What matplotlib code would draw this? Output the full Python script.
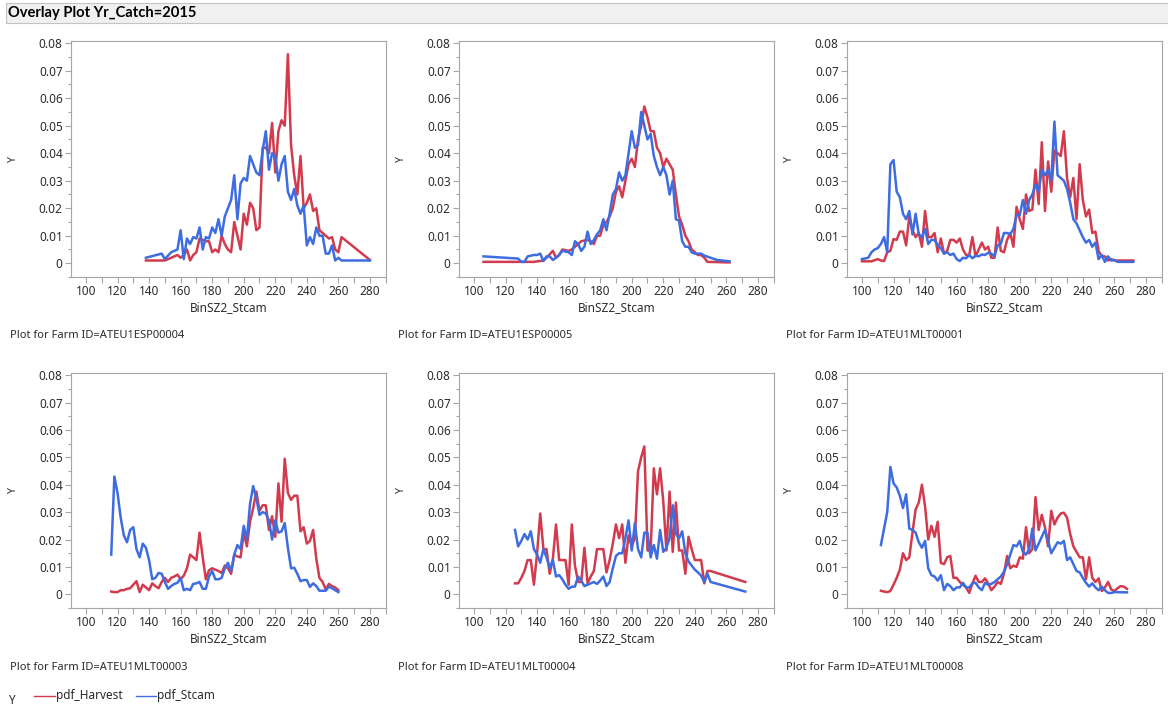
import matplotlib
matplotlib.use("Agg")
import matplotlib.pyplot as plt
from matplotlib.patches import Rectangle
from matplotlib.lines import Line2D
from matplotlib.ticker import MultipleLocator, FuncFormatter

plt.rcParams['font.family'] = ['Noto Sans', 'DejaVu Sans']

# (BinSZ2_Stcam, pdf) pairs per farm
esp04_harvest = [(138, 0.001), (150, 0.001), (158, 0.003), (160, 0.002), (162, 0.003), (164, 0.005),
                 (166, 0.001), (168, 0.003), (170, 0.004), (172, 0.009), (176, 0.008), (178, 0.008),
                 (180, 0.004), (182, 0.005), (184, 0.004), (186, 0.010), (188, 0.007), (190, 0.005),
                 (192, 0.004), (194, 0.015), (196, 0.010), (198, 0.005), (200, 0.018), (202, 0.014),
                 (204, 0.022), (206, 0.020), (208, 0.012), (210, 0.013), (212, 0.042), (214, 0.042),
                 (216, 0.040), (218, 0.051), (220, 0.033), (222, 0.048), (224, 0.052), (226, 0.050),
                 (228, 0.076), (230, 0.043), (232, 0.032), (234, 0.025), (236, 0.039), (238, 0.020),
                 (240, 0.022), (242, 0.025), (244, 0.019), (246, 0.020), (248, 0.012), (250, 0.011),
                 (252, 0.010), (254, 0.009), (256, 0.0095), (258, 0.005), (260, 0.004), (262, 0.0095),
                 (280, 0.0012)]
esp04_stcam = [(138, 0.002), (148, 0.0035), (150, 0.0015), (154, 0.004), (158, 0.005), (160, 0.012),
               (162, 0.0015), (164, 0.009), (166, 0.007), (168, 0.0095), (170, 0.009), (172, 0.013),
               (174, 0.005), (176, 0.0095), (178, 0.009), (180, 0.013), (182, 0.011), (184, 0.016),
               (186, 0.010), (188, 0.017), (190, 0.020), (192, 0.023), (194, 0.032), (196, 0.016),
               (198, 0.029), (200, 0.031), (202, 0.030), (204, 0.039), (206, 0.036), (208, 0.033),
               (210, 0.032), (212, 0.041), (214, 0.048), (216, 0.034), (218, 0.040), (220, 0.039),
               (222, 0.030), (224, 0.036), (226, 0.039), (228, 0.026), (230, 0.023), (232, 0.027),
               (234, 0.021), (236, 0.018), (238, 0.021), (240, 0.0065), (242, 0.0095), (244, 0.007),
               (246, 0.013), (248, 0.010), (250, 0.010), (252, 0.0035), (254, 0.0035), (256, 0.0065),
               (258, 0.001), (260, 0.002), (262, 0.001), (280, 0.001)]

esp05_harvest = [(106, 0.0005), (130, 0.0005), (138, 0.0005), (144, 0.001), (146, 0.002), (150, 0.0045),
                 (152, 0.002), (154, 0.003), (156, 0.005), (160, 0.0045), (162, 0.005), (164, 0.006),
                 (168, 0.008), (172, 0.0085), (174, 0.008), (176, 0.007), (178, 0.010), (180, 0.010),
                 (182, 0.014), (184, 0.015), (186, 0.017), (188, 0.020), (190, 0.026), (192, 0.028),
                 (194, 0.024), (196, 0.030), (198, 0.036), (200, 0.038), (202, 0.035), (204, 0.045),
                 (206, 0.050), (208, 0.057), (210, 0.053), (212, 0.048), (214, 0.048), (216, 0.042),
                 (218, 0.040), (220, 0.035), (222, 0.038), (224, 0.036), (226, 0.034), (228, 0.025),
                 (230, 0.017), (232, 0.014), (234, 0.010), (236, 0.008), (238, 0.005), (240, 0.004),
                 (242, 0.003), (244, 0.003), (246, 0.002), (248, 0.0005), (262, 0.0003)]
esp05_stcam = [(106, 0.0025), (128, 0.0017), (130, 0.0005), (132, 0.0005), (134, 0.0025), (138, 0.003),
               (140, 0.003), (142, 0.0035), (144, 0.0008), (146, 0.0025), (148, 0.0025), (150, 0.0012),
               (152, 0.002), (154, 0.003), (156, 0.0045), (160, 0.004), (162, 0.003), (164, 0.008),
               (166, 0.007), (168, 0.0045), (170, 0.006), (172, 0.0115), (174, 0.007), (176, 0.0085),
               (178, 0.0105), (180, 0.012), (182, 0.016), (184, 0.012), (186, 0.018), (188, 0.025),
               (190, 0.027), (192, 0.033), (194, 0.030), (196, 0.032), (198, 0.040), (200, 0.048),
               (202, 0.042), (204, 0.043), (206, 0.055), (208, 0.050), (210, 0.045), (212, 0.047),
               (214, 0.039), (216, 0.035), (218, 0.032), (220, 0.035), (222, 0.032), (224, 0.025),
               (226, 0.030), (228, 0.016), (230, 0.0155), (232, 0.008), (234, 0.006), (236, 0.006),
               (238, 0.004), (240, 0.0035), (242, 0.0035), (244, 0.0035), (246, 0.0028), (250, 0.002),
               (254, 0.0012), (262, 0.0007)]

mlt01_harvest = [(100, 0.0007), (106, 0.0007), (110, 0.0015), (112, 0.001), (114, 0.0008), (116, 0.004),
                 (118, 0.0045), (120, 0.0088), (122, 0.0085), (124, 0.0115), (126, 0.0115), (128, 0.0065),
                 (130, 0.017), (132, 0.012), (134, 0.0095), (136, 0.011), (138, 0.006), (140, 0.019),
                 (142, 0.0095), (144, 0.0095), (146, 0.011), (148, 0.004), (150, 0.009), (152, 0.0035),
                 (154, 0.0045), (156, 0.0085), (158, 0.0085), (160, 0.0075), (162, 0.009), (164, 0.005),
                 (166, 0.003), (168, 0.003), (170, 0.0095), (172, 0.0025), (174, 0.005), (176, 0.0075),
                 (178, 0.005), (180, 0.006), (182, 0.002), (184, 0.002), (186, 0.013), (188, 0.0045),
                 (190, 0.004), (192, 0.0085), (194, 0.011), (196, 0.006), (198, 0.0205), (200, 0.016),
                 (202, 0.0125), (204, 0.025), (206, 0.019), (208, 0.0195), (210, 0.034), (212, 0.0215),
                 (214, 0.044), (216, 0.019), (218, 0.037), (220, 0.026), (222, 0.041), (224, 0.040),
                 (226, 0.039), (228, 0.048), (230, 0.031), (232, 0.024), (234, 0.031), (236, 0.016),
                 (238, 0.036), (240, 0.023), (242, 0.017), (244, 0.0195), (246, 0.011), (248, 0.0115),
                 (250, 0.0045), (252, 0.0025), (254, 0.0025), (256, 0.001), (258, 0.0015), (260, 0.001),
                 (272, 0.001)]
mlt01_stcam = [(100, 0.0015), (104, 0.002), (106, 0.004), (108, 0.005), (110, 0.0055), (112, 0.007),
               (114, 0.0095), (116, 0.004), (118, 0.036), (120, 0.0375), (122, 0.026), (124, 0.024),
               (126, 0.018), (128, 0.016), (130, 0.019), (132, 0.0105), (134, 0.018), (136, 0.0105),
               (138, 0.0095), (140, 0.0125), (142, 0.007), (144, 0.0085), (146, 0.0085), (148, 0.0065),
               (150, 0.0055), (152, 0.0035), (154, 0.004), (156, 0.003), (158, 0.0035), (160, 0.0015),
               (162, 0.0008), (164, 0.002), (166, 0.0018), (168, 0.003), (170, 0.0018), (172, 0.0028),
               (174, 0.0025), (176, 0.0032), (178, 0.003), (180, 0.0038), (182, 0.0035), (184, 0.0025),
               (186, 0.0065), (188, 0.007), (190, 0.011), (192, 0.011), (194, 0.0105), (196, 0.0125),
               (198, 0.0175), (200, 0.0175), (202, 0.023), (204, 0.018), (206, 0.023), (208, 0.025),
               (210, 0.0285), (212, 0.026), (214, 0.034), (216, 0.032), (218, 0.034), (220, 0.030),
               (222, 0.0515), (224, 0.032), (226, 0.031), (228, 0.030), (230, 0.027), (232, 0.022),
               (234, 0.016), (236, 0.0145), (238, 0.012), (240, 0.0095), (242, 0.0075), (244, 0.0085),
               (246, 0.006), (248, 0.0075), (250, 0.0015), (252, 0.003), (254, 0.0005), (256, 0.0025),
               (258, 0.001), (260, 0.0012), (262, 0.0005), (272, 0.0005)]

mlt03_harvest = [(116, 0.001), (118, 0.0008), (120, 0.0008), (122, 0.0015), (124, 0.0015), (126, 0.002),
                 (128, 0.0022), (130, 0.0035), (132, 0.0048), (134, 0.0008), (136, 0.0035), (138, 0.0025),
                 (140, 0.0015), (142, 0.004), (144, 0.003), (146, 0.0022), (148, 0.0045), (150, 0.006),
                 (152, 0.0045), (154, 0.006), (156, 0.0065), (158, 0.0072), (160, 0.0055), (162, 0.0068),
                 (164, 0.0095), (166, 0.0145), (168, 0.0135), (170, 0.0125), (172, 0.0225), (174, 0.0135),
                 (176, 0.0055), (178, 0.0088), (180, 0.0095), (182, 0.009), (184, 0.0085), (186, 0.0078),
                 (188, 0.0105), (190, 0.0095), (192, 0.0075), (194, 0.0145), (196, 0.0138), (198, 0.0135),
                 (200, 0.0225), (202, 0.0175), (204, 0.0265), (206, 0.0315), (208, 0.0375), (210, 0.0305),
                 (212, 0.0325), (214, 0.0325), (216, 0.0235), (218, 0.0285), (220, 0.021), (222, 0.0405),
                 (224, 0.0265), (226, 0.0495), (228, 0.037), (230, 0.0345), (232, 0.036), (234, 0.036),
                 (236, 0.023), (238, 0.0245), (240, 0.0185), (242, 0.0195), (244, 0.0235), (246, 0.013),
                 (248, 0.006), (250, 0.0045), (252, 0.0018), (254, 0.0038), (256, 0.003), (258, 0.0025),
                 (260, 0.0015)]
mlt03_stcam = [(116, 0.0145), (118, 0.043), (120, 0.037), (122, 0.028), (124, 0.0215), (126, 0.019),
               (128, 0.0235), (130, 0.0245), (132, 0.0165), (134, 0.0135), (136, 0.0185), (138, 0.017),
               (140, 0.0125), (142, 0.0055), (144, 0.006), (146, 0.0078), (148, 0.0075), (150, 0.0045),
               (152, 0.002), (154, 0.003), (156, 0.0038), (158, 0.0042), (160, 0.006), (162, 0.0015),
               (164, 0.002), (166, 0.0015), (168, 0.0038), (170, 0.004), (172, 0.0045), (174, 0.002),
               (176, 0.002), (178, 0.0065), (180, 0.0085), (182, 0.0055), (184, 0.0055), (186, 0.006),
               (188, 0.0095), (190, 0.0115), (192, 0.0085), (194, 0.0145), (196, 0.018), (198, 0.0165),
               (200, 0.025), (202, 0.020), (204, 0.033), (206, 0.0395), (208, 0.035), (210, 0.029),
               (212, 0.030), (214, 0.0295), (216, 0.027), (218, 0.020), (220, 0.027), (222, 0.0225),
               (224, 0.023), (226, 0.026), (228, 0.017), (230, 0.0095), (232, 0.0097), (234, 0.0075),
               (236, 0.0048), (238, 0.0052), (240, 0.0052), (242, 0.0027), (244, 0.004), (246, 0.003),
               (248, 0.0013), (250, 0.0013), (252, 0.0013), (254, 0.0028), (256, 0.0022), (258, 0.0015),
               (260, 0.0008)]

mlt04_harvest = [(126, 0.004), (128, 0.004), (130, 0.006), (132, 0.0085), (134, 0.0125), (136, 0.0125),
                 (138, 0.0035), (140, 0.015), (142, 0.0295), (144, 0.0165), (146, 0.0165), (148, 0.0075),
                 (150, 0.013), (152, 0.0255), (154, 0.0125), (156, 0.0125), (158, 0.0125), (160, 0.0035),
                 (162, 0.0255), (164, 0.0105), (166, 0.0045), (168, 0.0045), (170, 0.017), (172, 0.004),
                 (174, 0.0065), (176, 0.0085), (178, 0.0165), (180, 0.0165), (182, 0.0165), (184, 0.008),
                 (186, 0.0125), (188, 0.0185), (190, 0.0255), (192, 0.0205), (194, 0.0255), (196, 0.0115),
                 (198, 0.0215), (200, 0.0175), (202, 0.0205), (204, 0.045), (206, 0.050), (208, 0.054),
                 (210, 0.016), (212, 0.016), (214, 0.046), (216, 0.0365), (218, 0.046), (220, 0.034),
                 (222, 0.016), (224, 0.0375), (226, 0.0155), (228, 0.0335), (230, 0.016), (232, 0.016),
                 (234, 0.0075), (236, 0.021), (238, 0.0165), (240, 0.0125), (242, 0.0125), (244, 0.0125),
                 (246, 0.004), (248, 0.0085), (250, 0.0085), (272, 0.0045)]
mlt04_stcam = [(126, 0.0235), (128, 0.0175), (130, 0.0195), (132, 0.022), (134, 0.020), (136, 0.023),
               (138, 0.0165), (140, 0.0145), (142, 0.0115), (144, 0.0165), (146, 0.0135), (148, 0.0095),
               (150, 0.0125), (152, 0.0065), (154, 0.007), (156, 0.0055), (158, 0.0035), (160, 0.002),
               (162, 0.0028), (164, 0.0028), (166, 0.0065), (168, 0.005), (170, 0.003), (172, 0.0035),
               (174, 0.004), (176, 0.0045), (178, 0.0038), (180, 0.005), (182, 0.0065), (184, 0.003),
               (186, 0.0045), (188, 0.0095), (190, 0.014), (192, 0.015), (194, 0.015), (196, 0.0205),
               (198, 0.027), (200, 0.016), (202, 0.026), (204, 0.0165), (206, 0.0135), (208, 0.0225),
               (210, 0.0225), (212, 0.0135), (214, 0.018), (216, 0.013), (218, 0.0235), (220, 0.0155),
               (222, 0.017), (224, 0.0205), (226, 0.0325), (228, 0.022), (230, 0.0205), (232, 0.023),
               (234, 0.015), (236, 0.012), (238, 0.0105), (240, 0.009), (242, 0.008), (244, 0.0068),
               (246, 0.0045), (248, 0.0075), (250, 0.0045), (272, 0.001)]

mlt08_harvest = [(112, 0.0013), (114, 0.001), (116, 0.0008), (118, 0.0012), (120, 0.0035), (122, 0.006),
                 (124, 0.009), (126, 0.015), (128, 0.0125), (130, 0.0135), (132, 0.0225), (134, 0.031),
                 (136, 0.0335), (138, 0.040), (140, 0.032), (142, 0.020), (144, 0.025), (146, 0.021),
                 (148, 0.0265), (150, 0.0115), (152, 0.011), (154, 0.0135), (156, 0.014), (158, 0.006),
                 (160, 0.006), (162, 0.0045), (164, 0.0035), (166, 0.0025), (168, 0.0005), (170, 0.004),
                 (172, 0.0068), (174, 0.0045), (176, 0.0045), (178, 0.0058), (180, 0.004), (182, 0.0015),
                 (184, 0.0028), (186, 0.0045), (188, 0.0038), (190, 0.0075), (192, 0.014), (194, 0.0095),
                 (196, 0.0105), (198, 0.010), (200, 0.0135), (202, 0.013), (204, 0.0245), (206, 0.015),
                 (208, 0.0165), (210, 0.0355), (212, 0.0235), (214, 0.029), (216, 0.0245), (218, 0.0175),
                 (220, 0.0305), (222, 0.0255), (224, 0.028), (226, 0.0295), (228, 0.0298), (230, 0.028),
                 (232, 0.022), (234, 0.0175), (236, 0.0155), (238, 0.0135), (240, 0.0135), (242, 0.0055),
                 (244, 0.0135), (246, 0.006), (248, 0.0045), (250, 0.0058), (252, 0.0012), (254, 0.0025),
                 (256, 0.0045), (258, 0.0018), (260, 0.0012), (262, 0.0022), (264, 0.003), (266, 0.0028),
                 (268, 0.002)]
mlt08_stcam = [(112, 0.018), (114, 0.024), (116, 0.030), (118, 0.0465), (120, 0.0405), (122, 0.039),
               (124, 0.036), (126, 0.0315), (128, 0.0365), (130, 0.024), (132, 0.0235), (134, 0.0225),
               (136, 0.019), (138, 0.017), (140, 0.0195), (142, 0.0095), (144, 0.007), (146, 0.0065),
               (148, 0.005), (150, 0.007), (152, 0.0015), (154, 0.0038), (156, 0.003), (158, 0.0015),
               (160, 0.0025), (162, 0.0025), (164, 0.0042), (166, 0.0025), (168, 0.0025), (170, 0.004),
               (172, 0.0042), (174, 0.0025), (176, 0.0015), (178, 0.0042), (180, 0.0035), (182, 0.0038),
               (184, 0.0045), (186, 0.0055), (188, 0.0065), (190, 0.0082), (192, 0.011), (194, 0.0145),
               (196, 0.018), (198, 0.0175), (200, 0.0195), (202, 0.0155), (204, 0.0145), (206, 0.0165),
               (208, 0.024), (210, 0.016), (212, 0.0185), (214, 0.021), (216, 0.0235), (218, 0.0195),
               (220, 0.015), (222, 0.017), (224, 0.019), (226, 0.0185), (228, 0.0195), (230, 0.0125),
               (232, 0.0135), (234, 0.011), (236, 0.0085), (238, 0.008), (240, 0.006), (242, 0.0042),
               (244, 0.0028), (246, 0.004), (248, 0.0025), (250, 0.0015), (252, 0.0028), (254, 0.0015),
               (256, 0.0005), (258, 0.0005), (260, 0.0008), (268, 0.0007)]

farm_ids = ["ATEU1ESP00004", "ATEU1ESP00005", "ATEU1MLT00001",
            "ATEU1MLT00003", "ATEU1MLT00004", "ATEU1MLT00008"]
harvest_series = [esp04_harvest, esp05_harvest, mlt01_harvest, mlt03_harvest, mlt04_harvest, mlt08_harvest]
stcam_series = [esp04_stcam, esp05_stcam, mlt01_stcam, mlt03_stcam, mlt04_stcam, mlt08_stcam]

x_ticks = [100, 120, 140, 160, 180, 200, 220, 240, 260, 280]
y_ticks = [0, 0.01, 0.02, 0.03, 0.04, 0.05, 0.06, 0.07, 0.08]

RED = "#d23b4d"
BLUE = "#3d6de0"
FRAME = "#a6a6a6"
TEXT = "#2b2b2b"

W, H = 1168, 711
fig = plt.figure(figsize=(W / 100, H / 100), dpi=100)


def fx(px):
    return px / W


def fy(py):
    return 1 - py / H


# header bar
fig.patches.append(Rectangle((fx(6), fy(23)), fx(1170) - fx(6), fy(3) - fy(23),
                             transform=fig.transFigure, facecolor="#f0f0f0",
                             edgecolor="#c4c4c4", linewidth=0.8))
fig.text(fx(8), fy(13.5), "Overlay Plot Yr_Catch=2015", fontsize=10.6, fontweight="bold",
         family=["Lato", "DejaVu Sans"], color="black", va="center", ha="left")

col_left = [71, 459, 847]
col_right = [386, 774, 1162]
row_top = [41, 373]
row_bottom = [277, 608]

for i, farm in enumerate(farm_ids):
    r, c = divmod(i, 3)
    ax = fig.add_axes([fx(col_left[c]), fy(row_bottom[r]),
                       fx(col_right[c]) - fx(col_left[c]), fy(row_top[r]) - fy(row_bottom[r])])

    hx, hy = zip(*harvest_series[i])
    sx, sy = zip(*stcam_series[i])
    ax.plot(hx, hy, color=RED, lw=1.8, solid_joinstyle="round")
    ax.plot(sx, sy, color=BLUE, lw=1.8, solid_joinstyle="round")

    ax.set_xlim(90.5, 290.2)
    ax.set_ylim(-0.005, 0.0808)
    ax.set_xticks(x_ticks)
    ax.set_yticks(y_ticks)
    ax.xaxis.set_minor_locator(MultipleLocator(10))
    ax.yaxis.set_minor_locator(MultipleLocator(0.005))
    ax.yaxis.set_major_formatter(FuncFormatter(lambda v, p: "0" if abs(v) < 1e-9 else f"{v:.2f}"))
    ax.tick_params(which="both", color=FRAME, labelcolor=TEXT, labelsize=8.5, width=0.8)
    ax.tick_params(which="major", length=4, pad=2)
    ax.tick_params(axis="x", which="minor", length=4)
    ax.tick_params(axis="y", which="minor", length=2)
    for sp in ax.spines.values():
        sp.set_color(FRAME)
        sp.set_linewidth(0.8)

    ax.set_ylabel("Y", fontsize=7.5, color=TEXT, labelpad=14)

    cx = (col_left[c] + col_right[c]) / 2
    fig.text(fx(cx), fy(row_bottom[r] + 31), "BinSZ2_Stcam", fontsize=8.5, color=TEXT,
             ha="center", va="center")
    fig.text(fx(col_left[c] - 61), fy(row_bottom[r] + 59), f"Plot for Farm ID={farm}",
             fontsize=8, color=TEXT, ha="left", va="center")

# legend row
fig.text(fx(8), fy(700), "Y", fontsize=8.5, color=TEXT, ha="left", va="center")
fig.add_artist(Line2D([fx(34), fx(55)], [fy(696), fy(696)], color=RED, lw=1.0,
                      transform=fig.transFigure))
fig.text(fx(56), fy(696), "pdf_Harvest", fontsize=8.5, color=TEXT, ha="left", va="center")
fig.add_artist(Line2D([fx(136), fx(156)], [fy(696), fy(696)], color=BLUE, lw=1.0,
                      transform=fig.transFigure))
fig.text(fx(157), fy(696), "pdf_Stcam", fontsize=8.5, color=TEXT, ha="left", va="center")

fig.savefig("out.png", dpi=100, facecolor="white")
